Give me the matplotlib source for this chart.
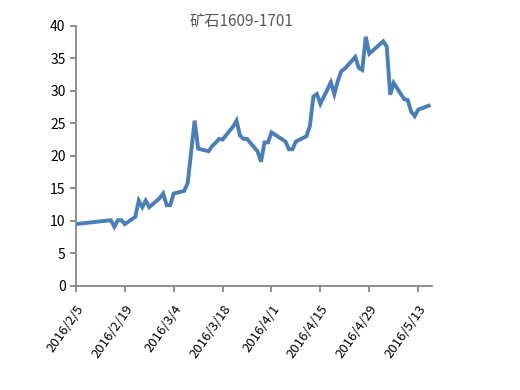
import matplotlib
matplotlib.use("Agg")
import matplotlib.pyplot as plt
import pandas as pd

plt.rcParams['font.family'] = ['Noto Sans CJK SC', 'DejaVu Sans']

# -------------------- DADOS --------------------
datas = ["2016-02-05", "2016-02-15", "2016-02-16", "2016-02-17", "2016-02-18", "2016-02-19",
         "2016-02-22", "2016-02-23", "2016-02-24", "2016-02-25", "2016-02-26", "2016-02-29",
         "2016-03-01", "2016-03-02", "2016-03-03", "2016-03-04", "2016-03-07", "2016-03-08",
         "2016-03-09", "2016-03-10", "2016-03-11", "2016-03-14", "2016-03-15", "2016-03-16",
         "2016-03-17", "2016-03-18", "2016-03-21", "2016-03-22", "2016-03-23", "2016-03-24",
         "2016-03-25", "2016-03-28", "2016-03-29", "2016-03-30", "2016-03-31", "2016-04-01",
         "2016-04-05", "2016-04-06", "2016-04-07", "2016-04-08", "2016-04-11", "2016-04-12",
         "2016-04-13", "2016-04-14", "2016-04-15", "2016-04-18", "2016-04-19", "2016-04-20",
         "2016-04-21", "2016-04-22", "2016-04-25", "2016-04-26", "2016-04-27", "2016-04-28",
         "2016-04-29", "2016-05-03", "2016-05-04", "2016-05-05", "2016-05-06", "2016-05-09",
         "2016-05-10", "2016-05-11", "2016-05-12", "2016-05-13", "2016-05-16"]
valores = [9.5, 10.1, 9.1, 10.1, 10.1, 9.5,
           10.6, 13.1, 12.1, 13.1, 12.1, 13.5,
           14.2, 12.4, 12.4, 14.2, 14.6, 15.8,
           20.6, 25.4, 21.1, 20.7, 21.5, 22.0,
           22.6, 22.5, 24.5, 25.4, 23.1, 22.6,
           22.6, 20.7, 19.1, 22.05, 22.05, 23.6,
           22.2, 21.0, 21.0, 22.2, 23.0, 24.6,
           29.1, 29.5, 28.0, 31.3, 29.5, 31.5,
           33.0, 33.4, 35.2, 33.5, 33.2, 38.3,
           35.7, 37.6, 36.8, 29.4, 31.2, 28.7,
           28.6, 26.8, 26.1, 27.1, 27.7]
titulo = "矿石1609-1701"
x_inicio = "2016-02-05"
x_fim = "2016-05-17"

# -------------------- GRÁFICO --------------------
d = pd.to_datetime(datas)
fig = plt.figure(figsize=(5.2, 3.9), dpi=100)
ax = fig.add_axes([0.146, 0.267, 0.685, 0.667])
ax.plot(d, valores, color="#4a7ebb", lw=2.8, solid_joinstyle="miter")

ax.set_xlim(pd.Timestamp(x_inicio), pd.Timestamp(x_fim))
ax.set_ylim(0, 40)
ax.set_yticks(range(0, 41, 5))
ticks = pd.date_range(x_inicio, periods=8, freq="14D")
ax.set_xticks(ticks)
ax.set_xticklabels([f"{t.year}/{t.month}/{t.day}" for t in ticks],
                   rotation=55, ha="right", rotation_mode="anchor", fontsize=9.5)

for s in ["top", "right"]:
    ax.spines[s].set_visible(False)
for s in ["left", "bottom"]:
    ax.spines[s].set_color("#868686")
    ax.spines[s].set_linewidth(1.3)
ax.tick_params(axis="both", colors="#868686", labelcolor="black", length=4, width=1.3)
ax.tick_params(axis="x", pad=8)
ax.tick_params(axis="y", labelsize=10)

fig.text(241 / 520, 1 - 22 / 390, titulo, ha="center", va="center",
         fontsize=11, color="#595959")

fig.savefig("out.png", dpi=100)
